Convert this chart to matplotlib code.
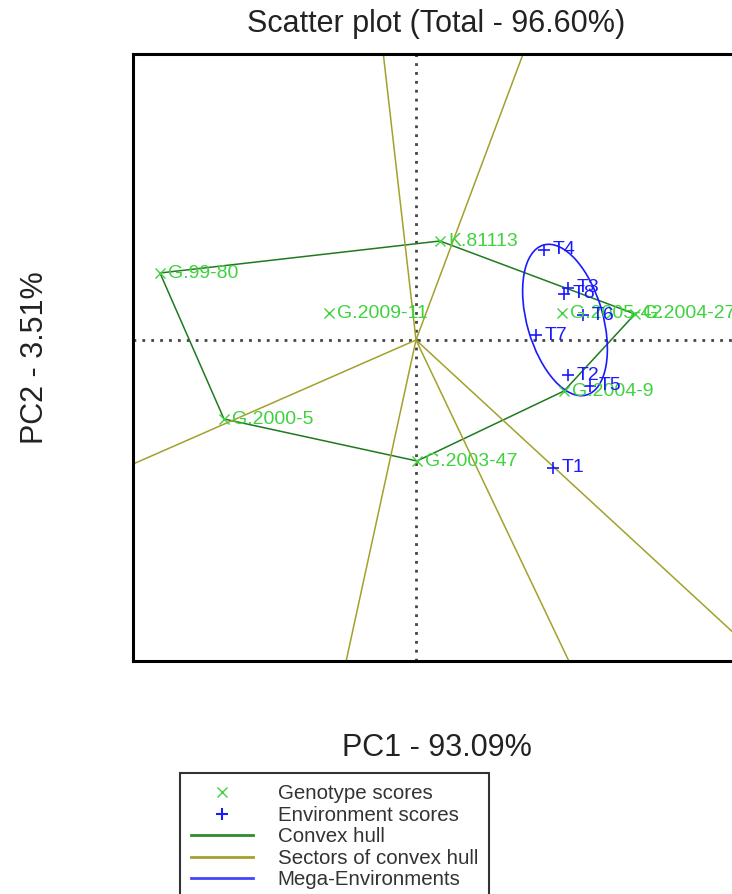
import numpy as np
import matplotlib.pyplot as plt
from matplotlib.patches import Ellipse
from matplotlib.lines import Line2D

plt.rcParams['font.family'] = ['Liberation Sans', 'DejaVu Sans']

# genotype scores (PC1, PC2)
gen_names = ['G.99-80', 'K.81113', 'G.2009-11', 'G.2000-5', 'G.2003-47',
             'G.2004-9', 'G.2005-42', 'G.2004-27']
gen_pc1 = [-2.56, 0.24, -0.87, -1.92, 0.01, 1.48, 1.46, 2.19]
gen_pc2 = [0.67, 0.99, 0.27, -0.79, -1.21, -0.51, 0.27, 0.26]

# environment scores
env_names = ['T1', 'T2', 'T3', 'T4', 'T5', 'T6', 'T7', 'T8']
env_pc1 = [1.37, 1.52, 1.52, 1.28, 1.74, 1.67, 1.20, 1.48]
env_pc2 = [-1.28, -0.35, 0.52, 0.90, -0.46, 0.25, 0.05, 0.46]

# mega-environment ellipse
me_center = (1.49, 0.20)
me_major, me_minor, me_angle = 1.56, 0.76, -74

green_pt = '#3fd23f'
blue_pt = '#1a1aff'
hull_col = '#1f7a1f'
sector_col = '#a3a12b'


def convex_hull(pts):
    pts = sorted(pts)
    def cross(o, a, b):
        return (a[0] - o[0]) * (b[1] - o[1]) - (a[1] - o[1]) * (b[0] - o[0])
    lower, upper = [], []
    for p in pts:
        while len(lower) >= 2 and cross(lower[-2], lower[-1], p) <= 0:
            lower.pop()
        lower.append(p)
    for p in reversed(pts):
        while len(upper) >= 2 and cross(upper[-2], upper[-1], p) <= 0:
            upper.pop()
        upper.append(p)
    return lower[:-1] + upper[:-1]


fig = plt.figure(figsize=(7.32, 8.94), dpi=100)
ax = fig.add_axes([133 / 732, 233 / 894, 607 / 732, 607 / 894])
ax.set_xlim(-2.83, 3.24)
ax.set_ylim(-3.21, 2.86)
ax.set_xticks([])
ax.set_yticks([])
for s in ax.spines.values():
    s.set_linewidth(2.2)

ax.axhline(0, color='#444444', lw=2, ls=(0, (1, 2.2)), zorder=1)
ax.axvline(0, color='#444444', lw=2, ls=(0, (1, 2.2)), zorder=1)

# convex hull and sectors
hull = convex_hull(list(zip(gen_pc1, gen_pc2)))
hx = [p[0] for p in hull] + [hull[0][0]]
hy = [p[1] for p in hull] + [hull[0][1]]
ax.plot(hx, hy, color=hull_col, lw=1.1, zorder=2)
for i in range(len(hull)):
    p1 = np.array(hull[i])
    p2 = np.array(hull[(i + 1) % len(hull)])
    d = p2 - p1
    foot = p1 - (p1 @ d) / (d @ d) * d
    end = foot / np.linalg.norm(foot) * 20
    ax.plot([0, end[0]], [0, end[1]], color=sector_col, lw=1.1, zorder=2)

ax.add_patch(Ellipse(me_center, me_major, me_minor, angle=me_angle,
                     fill=False, edgecolor=blue_pt, lw=1.2, zorder=3))

ax.plot(gen_pc1, gen_pc2, 'x', color=green_pt, ms=6.5, mew=1.0, zorder=4)
ax.plot(env_pc1, env_pc2, '+', color=blue_pt, ms=9, mew=1.2, zorder=4)
for n, x, y in zip(gen_names, gen_pc1, gen_pc2):
    ax.annotate(n, (x, y), xytext=(6, 0), textcoords='offset points',
                color=green_pt, fontsize=14, va='center', ha='left', zorder=5)
for n, x, y in zip(env_names, env_pc1, env_pc2):
    ax.annotate(n, (x, y), xytext=(6, 0), textcoords='offset points',
                color=blue_pt, fontsize=14, va='center', ha='left', zorder=5)

ax.set_title('Scatter plot (Total - 96.60%)', fontsize=22, pad=16, color='#222222')
ax.set_xlabel('PC1 - 93.09%', fontsize=22, labelpad=52, color='#222222')
ax.set_ylabel('PC2 - 3.51%', fontsize=22, labelpad=60, color='#222222')

handles = [
    Line2D([], [], ls='none', marker='x', color=green_pt, ms=6.5, mew=1.0),
    Line2D([], [], ls='none', marker='+', color=blue_pt, ms=9, mew=1.5),
    Line2D([], [], color='#2e8b2e', lw=2),
    Line2D([], [], color=sector_col, lw=2),
    Line2D([], [], color='#4444ff', lw=2),
]
labels = ['Genotype scores', 'Environment scores', 'Convex hull',
          'Sectors of convex hull', 'Mega-Environments']
leg = fig.legend(handles, labels, loc='upper left',
                 bbox_to_anchor=(180 / 732, 1 - 773 / 894),
                 fontsize=14.8, frameon=True, fancybox=False,
                 edgecolor='black', handlelength=3, handletextpad=1.2,
                 labelspacing=0.12, borderpad=0.55, borderaxespad=0)
leg.get_frame().set_linewidth(1.5)
for t in leg.get_texts():
    t.set_color('#333333')

fig.savefig('out.png', dpi=100)
